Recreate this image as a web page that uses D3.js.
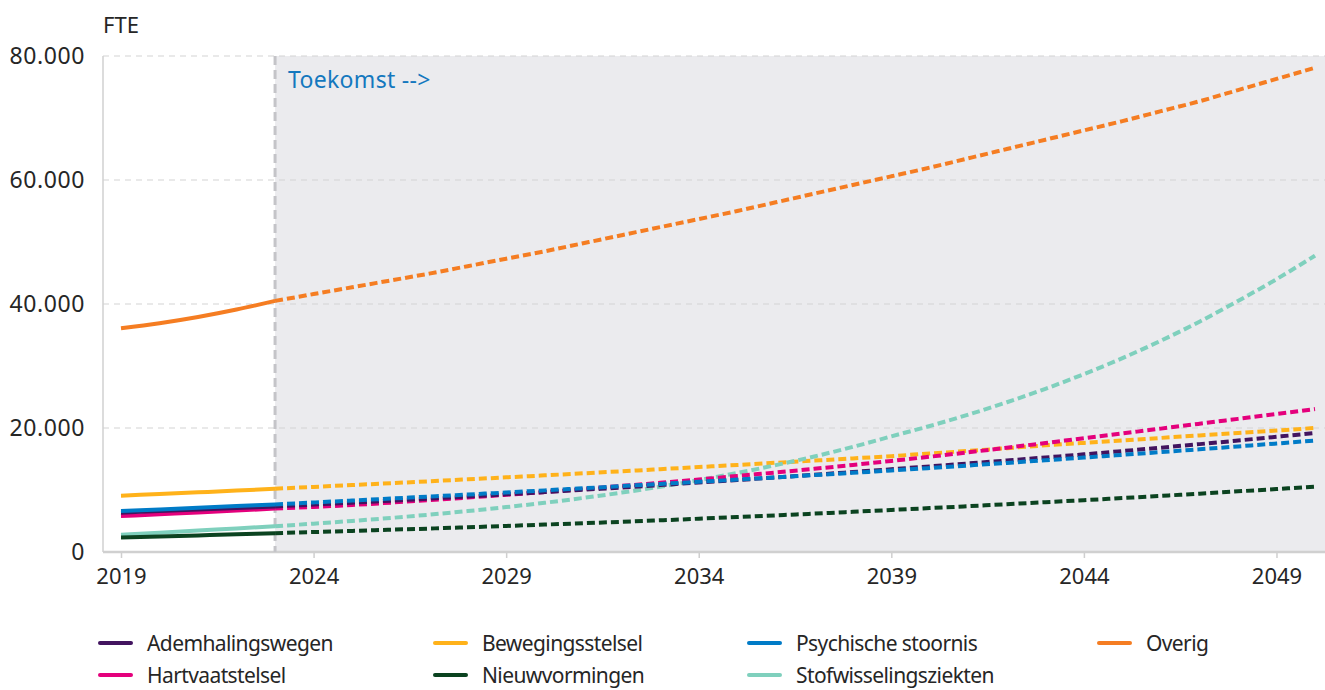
<!DOCTYPE html>
<html>
<head>
<meta charset="utf-8">
<script src="https://cdn.jsdelivr.net/npm/d3@7"></script>
<style>
  body { margin: 0; background: #fff; }
  svg text { font-family: "Noto Sans", sans-serif; fill: #262626; }
</style>
</head>
<body>
<svg id="chart"></svg>
<script>
// data (FTE per year)
const years = d3.range(2019, 2051);
const lastHistYear = 2023;
const xTicks = [2019, 2024, 2029, 2034, 2039, 2044, 2049];
const yTicks = [0, 20000, 40000, 60000, 80000];

const ademhalingswegen = [6350, 6600, 6850, 7100, 7350, 7650, 7960, 8280, 8610, 8950, 9300, 9660, 10030, 10410, 10800, 11200,
  11610, 12030, 12460, 12900, 13350, 13810, 14280, 14760, 15250, 15750, 16280, 16830, 17400, 17980, 18580, 19200];
const bewegingsstelsel = [9080, 9350, 9620, 9900, 10210, 10500, 10800, 11100, 11400, 11720, 12040, 12360, 12690, 13020, 13360, 13700,
  14040, 14390, 14740, 15100, 15460, 15900, 16300, 16750, 17200, 17600, 18000, 18400, 18800, 19200, 19600, 20000];
const psychische = [6600, 6870, 7140, 7410, 7680, 7990, 8300, 8620, 8940, 9270, 9600, 9940, 10280, 10630, 10980, 11330,
  11680, 12040, 12400, 12770, 13140, 13540, 13950, 14370, 14800, 15230, 15670, 16120, 16570, 17030, 17500, 17980];
const overig = [36100, 36900, 37900, 39100, 40500, 41600, 42700, 43800, 44900, 46100, 47300, 48500, 49800, 51100, 52400, 53700,
  55000, 56400, 57800, 59200, 60600, 62000, 63500, 65000, 66500, 68000, 69500, 71100, 72700, 74500, 76300, 78100];
const hartvaatstelsel = [5790, 6080, 6380, 6680, 7000, 7270, 7580, 7960, 8360, 8780, 9220, 9680, 10160, 10660, 11170, 11690,
  12270, 12830, 13420, 14040, 14690, 15370, 16080, 16820, 17580, 18360, 19120, 19900, 20680, 21470, 22260, 23050];
const nieuwvormingen = [2340, 2510, 2680, 2860, 3040, 3220, 3400, 3590, 3780, 3990, 4200, 4420, 4640, 4870, 5110, 5370,
  5640, 5910, 6190, 6480, 6780, 7080, 7390, 7710, 8030, 8360, 8700, 9050, 9410, 9780, 10160, 10550];
const stofwisseling = [2780, 3100, 3450, 3800, 4170, 4570, 5010, 5490, 6020, 6600, 7240, 7940, 8720, 9580, 10530, 11580,
  12740, 14010, 15410, 16950, 18650, 20330, 22160, 24150, 26320, 28690, 31270, 34080, 37150, 40490, 44000, 47800];

const series = [
  { name: "Ademhalingswegen", color: "#42145f", values: ademhalingswegen },
  { name: "Bewegingsstelsel", color: "#ffb21a", values: bewegingsstelsel },
  { name: "Psychische stoornis", color: "#007bc7", values: psychische },
  { name: "Overig", color: "#f57d22", values: overig },
  { name: "Hartvaatstelsel", color: "#e4007c", values: hartvaatstelsel },
  { name: "Nieuwvormingen", color: "#0b4320", values: nieuwvormingen },
  { name: "Stofwisselingsziekten", color: "#7fd0bd", values: stofwisseling }
];
// drawing order (last on top)
const drawOrder = ["Overig", "Bewegingsstelsel", "Stofwisselingsziekten", "Nieuwvormingen", "Hartvaatstelsel", "Ademhalingswegen", "Psychische stoornis"];

const width = 1325, height = 690;
const plotLeft = 103, plotRight = 1325;

const x = d3.scaleLinear().domain([2019, 2050]).range([121, 1315]);
const y = d3.scaleLinear().domain([0, 80000]).range([552, 56]);

const nl = d3.formatLocale({ decimal: ",", thousands: ".", grouping: [3], currency: ["€", ""] });
const fmt = nl.format(",d");

const svg = d3.select("#chart").attr("width", width).attr("height", height);

// future area
svg.append("rect")
  .attr("x", x(lastHistYear)).attr("y", y(80000))
  .attr("width", plotRight - x(lastHistYear)).attr("height", y(0) - y(80000))
  .attr("fill", "#ebebee");

// gridlines
svg.append("g").selectAll("line")
  .data(yTicks.filter(d => d > 0))
  .join("line")
  .attr("x1", plotLeft).attr("x2", plotRight)
  .attr("y1", d => y(d)).attr("y2", d => y(d))
  .attr("stroke", "#d4d4d4").attr("stroke-width", 1.2)
  .attr("stroke-dasharray", "6,5");

// y axis labels
const yAxis = d3.axisLeft(y).tickValues(yTicks).tickFormat(fmt).tickSize(0).tickPadding(0);
const gy = svg.append("g").attr("transform", `translate(${plotLeft - 18},0)`).call(yAxis);
gy.select(".domain").remove();
gy.selectAll("text").attr("font-size", 23).attr("dy", "0.34em").attr("fill", "#262626")
  .attr("letter-spacing", 0.6)
  .style("font-family", "'Noto Sans', sans-serif");

svg.append("line")
  .attr("x1", plotLeft).attr("x2", plotLeft)
  .attr("y1", y(80000)).attr("y2", y(0))
  .attr("stroke", "#d0d0d0").attr("stroke-width", 1.5);

// x axis
const xAxis = d3.axisBottom(x).tickValues(xTicks).tickFormat(d3.format("d")).tickSizeInner(6).tickSizeOuter(0).tickPadding(10);
const gx = svg.append("g").attr("transform", `translate(0,${y(0)})`).call(xAxis);
gx.select(".domain").remove();
gx.selectAll(".tick line").attr("stroke", "#cfcfcf").attr("stroke-width", 1.5);
gx.selectAll("text").attr("font-size", 22).attr("fill", "#262626")
  .style("font-family", "'Noto Sans', sans-serif");
svg.append("line")
  .attr("x1", plotLeft).attr("x2", plotRight)
  .attr("y1", y(0)).attr("y2", y(0))
  .attr("stroke", "#d0d0d0").attr("stroke-width", 2.5);

// "now" divider
svg.append("line")
  .attr("x1", x(lastHistYear)).attr("x2", x(lastHistYear))
  .attr("y1", y(80000)).attr("y2", y(0))
  .attr("stroke", "#c4c4c8").attr("stroke-width", 3)
  .attr("stroke-dasharray", "9,5");

svg.append("text").attr("x", plotLeft).attr("y", 33).attr("font-size", 22).text("FTE");
svg.append("text").attr("x", x(lastHistYear) + 13).attr("y", 88).attr("font-size", 23)
  .attr("letter-spacing", 0.3)
  .style("fill", "#1478be").text("Toekomst -->");

// lines
const line = d3.line().x(d => x(d.year)).y(d => y(d.value)).curve(d3.curveMonotoneX);
const byName = new Map(series.map(s => [s.name, s]));
const lines = svg.append("g").attr("fill", "none").attr("stroke-width", 4);
drawOrder.forEach(name => {
  const s = byName.get(name);
  const pts = years.map((yr, i) => ({ year: yr, value: s.values[i] }));
  lines.append("path")
    .datum(pts.filter(d => d.year <= lastHistYear))
    .attr("d", line).attr("stroke", s.color);
  lines.append("path")
    .datum(pts.filter(d => d.year >= lastHistYear))
    .attr("d", line).attr("stroke", s.color)
    .attr("stroke-dasharray", "8,4");
});

// legend
const legendCols = [147, 482, 796, 1146];
const legendRows = [643, 675];
const legendLayout = [
  ["Ademhalingswegen", 0, 0], ["Bewegingsstelsel", 1, 0], ["Psychische stoornis", 2, 0], ["Overig", 3, 0],
  ["Hartvaatstelsel", 0, 1], ["Nieuwvormingen", 1, 1], ["Stofwisselingsziekten", 2, 1]
];
const legend = svg.append("g");
legendLayout.forEach(([name, c, r]) => {
  const s = byName.get(name);
  const g = legend.append("g").attr("transform", `translate(${legendCols[c]},${legendRows[r]})`);
  g.append("line").attr("x1", -47).attr("x2", -16).attr("y1", 0).attr("y2", 0)
    .attr("stroke", s.color).attr("stroke-width", 4).attr("stroke-linecap", "round");
  g.append("text").attr("x", 0).attr("y", 8).attr("font-size", 21)
    .attr("letter-spacing", -0.6).text(name);
});
</script>
</body>
</html>
